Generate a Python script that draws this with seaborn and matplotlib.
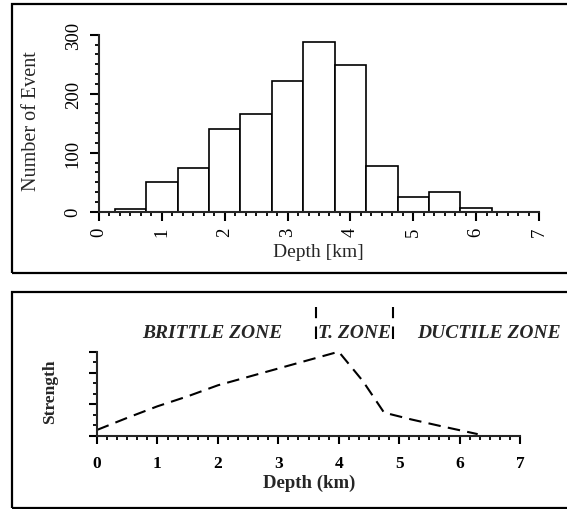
import numpy as np
import pandas as pd
import matplotlib
matplotlib.use('Agg')
import matplotlib.pyplot as plt
import seaborn as sns
from matplotlib.patches import Rectangle
from matplotlib.ticker import MultipleLocator, FixedLocator

# ---------------- data ----------------
bin_edges = [0.25, 0.75, 1.25, 1.75, 2.25, 2.75, 3.25, 3.75, 4.25, 4.75, 5.25, 5.75, 6.25]
event_counts = [4, 51, 74, 140, 166, 222, 288, 249, 78, 25, 34, 6]

depth_profile = [0.0, 0.5, 1.0, 1.5, 2.0, 2.5, 3.0, 3.5, 4.0, 4.4, 4.75, 5.2, 5.7, 6.3]
strength_profile = [0.55, 1.7, 2.8, 3.75, 4.8, 5.6, 6.4, 7.2, 8.0, 5.2, 2.2, 1.55, 0.9, 0.15]

zone_bounds = [3.62, 4.90]
zone_marker_span = [9.2, 12.3]
zone_names = ['BRITTLE ZONE', 'T. ZONE', 'DUCTILE ZONE']
zone_label_x = [1.91, 4.26, 6.48]
zone_label_y = 9.8

x_ticks = [0, 1, 2, 3, 4, 5, 6, 7]
top_y_ticks = [0, 100, 200, 300]
bottom_y_major = [0, 3, 6, 8]

# ---------------- style ----------------
sns.set_style('ticks')
plt.rcParams['font.family'] = ['Liberation Serif', 'DejaVu Serif']

W, H = 567, 510
fig = plt.figure(figsize=(W / 100, H / 100), dpi=100)
fig.patch.set_facecolor('white')

def fx(px):
    return px / W

def fy(py):
    return 1 - py / H

# frames
fig.patches.append(Rectangle((fx(12), fy(274)), fx(600) - fx(12), fy(5) - fy(274),
                             transform=fig.transFigure, fill=False, lw=1.6,
                             edgecolor='black', zorder=0))
fig.patches.append(Rectangle((fx(12), fy(509)), fx(600) - fx(12), fy(293) - fy(509),
                             transform=fig.transFigure, fill=False, lw=1.6,
                             edgecolor='black', zorder=0))

# ---------------- top: histogram ----------------
ax1 = fig.add_axes([fx(99), fy(212.7), fx(539) - fx(99), fy(35.7) - fy(212.7)])
centers = [(a + b) / 2 for a, b in zip(bin_edges[:-1], bin_edges[1:])]
df = pd.DataFrame({'depth': centers, 'count': event_counts})
sns.histplot(data=df, x='depth', weights='count', bins=bin_edges, ax=ax1,
             color='white', edgecolor='black', linewidth=1.2, alpha=1)
ax1.set_xlim(0, 7)
ax1.set_ylim(0, 300)
ax1.set_xlabel('')
ax1.set_ylabel('')
ax1.set_facecolor('none')
for s in ['top', 'right']:
    ax1.spines[s].set_visible(False)
for s in ['left', 'bottom']:
    ax1.spines[s].set_linewidth(1.5)
ax1.xaxis.set_major_locator(FixedLocator(x_ticks))
ax1.yaxis.set_major_locator(FixedLocator(top_y_ticks))
ax1.xaxis.set_minor_locator(MultipleLocator(1 / 6))
ax1.yaxis.set_minor_locator(MultipleLocator(100 / 6))
ax1.set_xticklabels([str(t) for t in x_ticks])
ax1.set_yticklabels([str(t) for t in top_y_ticks])
ax1.tick_params(axis='both', which='major', length=6.5, width=1.5, labelsize=13.5,
                color='black', labelcolor='black')
ax1.tick_params(axis='both', which='minor', length=3, width=1.3, color='black')
ax1.tick_params(axis='x', which='major', labelrotation=90, pad=4)
ax1.tick_params(axis='y', which='major', labelrotation=90, pad=6)
for lab in ax1.get_yticklabels():
    lab.set_verticalalignment('center')

fig.text(fx(31), fy(121), 'Number of Event', rotation=90, ha='center', va='center',
         fontsize=14.5)
fig.text(fx(318), fy(257), 'Depth [km]', ha='center', va='baseline', fontsize=14)

# ---------------- bottom: strength profile ----------------
ax2 = fig.add_axes([fx(97), fy(436.7), fx(520) - fx(97), fy(352.7) - fy(436.7)])
sns.lineplot(x=depth_profile, y=strength_profile, ax=ax2, color='black', lw=1.5,
             linestyle=(0, (6, 3.5)), clip_on=False, sort=False)
ax2.set_xlim(0, 7)
ax2.set_ylim(0, 8)
ax2.set_xlabel('')
ax2.set_ylabel('')
ax2.set_facecolor('none')
for s in ['top', 'right']:
    ax2.spines[s].set_visible(False)
for s in ['left', 'bottom']:
    ax2.spines[s].set_linewidth(1.5)
ax2.xaxis.set_major_locator(FixedLocator(x_ticks))
ax2.xaxis.set_minor_locator(MultipleLocator(1 / 6))
ax2.yaxis.set_major_locator(FixedLocator(bottom_y_major))
ax2.yaxis.set_minor_locator(MultipleLocator(1))
ax2.set_xticklabels([str(t) for t in x_ticks], fontweight='bold')
ax2.set_yticklabels([])
ax2.tick_params(axis='both', which='major', length=6, width=1.5, labelsize=12.5,
                color='black', labelcolor='black')
ax2.tick_params(axis='both', which='minor', length=3, width=1.3, color='black')
ax2.tick_params(axis='x', which='major', pad=8)

for b in zone_bounds:
    ax2.plot([b, b], zone_marker_span, color='black', lw=1.5,
             linestyle=(0, (6, 4)), clip_on=False)
for name, x in zip(zone_names, zone_label_x):
    ax2.text(x, zone_label_y, name, ha='center', va='center', fontsize=14,
             fontweight='bold', fontstyle='italic', clip_on=False)

fig.text(fx(50), fy(392), 'Strength', rotation=90, ha='center', va='center',
         fontsize=12.5, fontweight='bold')
fig.text(fx(309), fy(488), 'Depth (km)', ha='center', va='baseline', fontsize=13.5,
         fontweight='bold')

fig.savefig('out.png', dpi=100, facecolor='white')
